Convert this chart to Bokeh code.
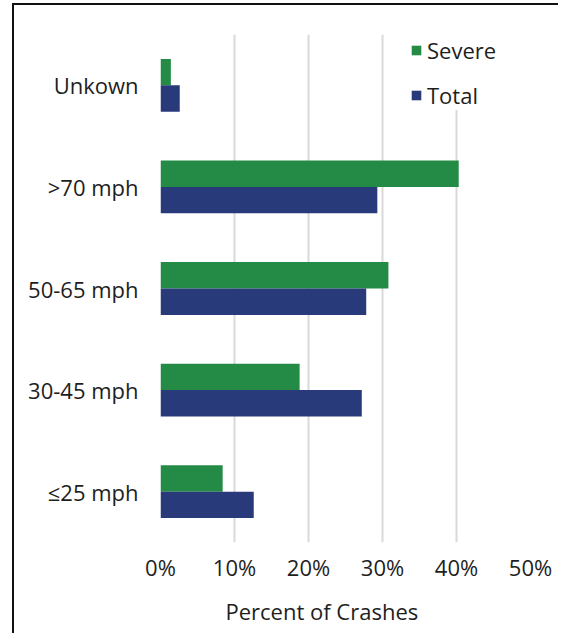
from bokeh.plotting import figure
from bokeh.models import (FactorRange, Legend, LegendItem, Title, FixedTicker, ColumnDataSource,
                          Range1d)
from bokeh.transform import dodge
from bokeh.embed import file_html
from bokeh.resources import INLINE

categories = ["≤25 mph", "30-45 mph", "50-65 mph", ">70 mph", "Unkown"]
severe = [8.4, 18.8, 30.8, 40.3, 1.4]
total = [12.6, 27.2, 27.8, 29.3, 2.6]
x_ticks = [0, 10, 20, 30, 40, 50]
x_tick_labels = ["0%", "10%", "20%", "30%", "40%", "50%"]
series_names = ["Severe", "Total"]
axis_title = "Percent of Crashes"

FONT = "Open Sans"
FS = "22px"
GREEN = "#238B45"
NAVY = "#283A7A"
TEXT = "#1E1E1E"

src = ColumnDataSource(dict(cat=categories, severe=severe, total=total))

p = figure(width=546, height=630, y_range=FactorRange(factors=categories),
           x_range=Range1d(0, 50), output_backend="svg", toolbar_location=None,
           min_border_left=146, min_border_top=29, min_border_right=30, min_border_bottom=93)
p.styles = {"box-shadow": "-2px -2px 0px 0px #111111",
            "margin-left": "14px", "margin-top": "5px"}
p.outline_line_color = None

r1 = p.hbar(y=dodge("cat", 0.13, range=p.y_range), right="severe", left=0, height=0.26,
            source=src, fill_color=GREEN, line_color=None)
r2 = p.hbar(y=dodge("cat", -0.13, range=p.y_range), right="total", left=0, height=0.26,
            source=src, fill_color=NAVY, line_color=None)

p.xaxis.ticker = FixedTicker(ticks=x_ticks)
p.xaxis.major_label_overrides = {t: l for t, l in zip(x_ticks, x_tick_labels)}
for ax in (p.xaxis, p.yaxis):
    ax.axis_line_color = None
    ax.major_tick_line_color = None
    ax.minor_tick_line_color = None
    ax.major_label_text_font = FONT
    ax.major_label_text_font_size = FS
    ax.major_label_text_color = TEXT
p.xaxis.major_label_standoff = 3
p.yaxis.major_label_standoff = 16

p.xgrid.grid_line_color = "#D9D9D9"
p.xgrid.grid_line_width = 2
p.ygrid.grid_line_color = None

legend = Legend(items=[LegendItem(label=series_names[0], renderers=[r1]),
                       LegendItem(label=series_names[1], renderers=[r2])],
                location=(250, 432), padding=8, margin=0, spacing=15,
                label_height=20, glyph_height=12, glyph_width=12, label_standoff=5,
                label_text_font=FONT, label_text_font_size=FS, label_text_color=TEXT,
                border_line_color=None, background_fill_color="white", background_fill_alpha=1)
p.add_layout(legend)

title = Title(text=axis_title, align="left", offset=65, text_font=FONT, text_font_size=FS,
              text_font_style="normal", text_color=TEXT, standoff=18)
p.add_layout(title, "below")

open("out.html", "w").write(file_html(p, INLINE))
